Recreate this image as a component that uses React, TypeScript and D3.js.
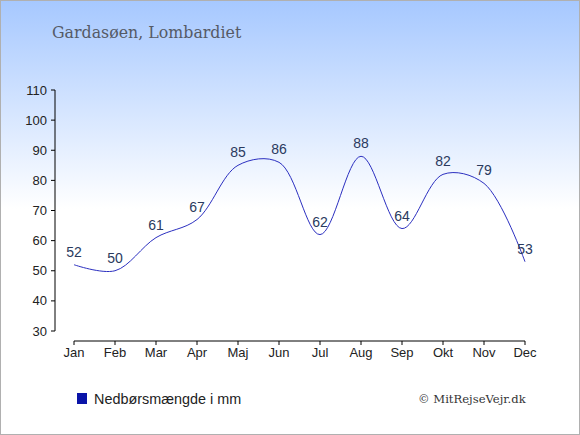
import React from 'react';
import * as d3 from 'd3';

const months = ['Jan', 'Feb', 'Mar', 'Apr', 'Maj', 'Jun', 'Jul', 'Aug', 'Sep', 'Okt', 'Nov', 'Dec'];
const rainfall = [52, 50, 61, 67, 85, 86, 62, 88, 64, 82, 79, 53];
const yTicks = [30, 40, 50, 60, 70, 80, 90, 100, 110];

const W = 580;
const H = 435;

const App: React.FC = () => {
  // scales
  const x = d3.scalePoint<string>().domain(months).range([74, 525]);
  const y = d3.scaleLinear().domain([30, 110]).range([331, 90]);

  const line = d3
    .line<number>()
    .x((_, i) => x(months[i]) as number)
    .y(d => y(d))
    .curve(d3.curveCatmullRom);

  return (
    <svg width={W} height={H} style={{ position: 'absolute', left: 0, top: 0 }}>
      <defs>
        <linearGradient id="bg" x1="0" y1="0" x2="0" y2="1">
          <stop offset="0" stopColor="#a6c8ff" />
          <stop offset="0.48" stopColor="#ffffff" />
          <stop offset="1" stopColor="#ffffff" />
        </linearGradient>
      </defs>
      <rect x={0.5} y={0.5} width={W - 1} height={H - 1} fill="url(#bg)" stroke="#b0b0b0" />

      <text x={52} y={38} fontFamily="DejaVu Serif" fontSize={15.8} fill="#555a66">
        Gardasøen, Lombardiet
      </text>

      {/* y axis */}
      <line x1={55} x2={55} y1={y(110)} y2={y(30)} stroke="#000" />
      {yTicks.map(t => (
        <g key={t}>
          <line x1={51} x2={55} y1={y(t)} y2={y(t)} stroke="#000" />
          <text x={47} y={y(t)} dy="0.35em" textAnchor="end" fontFamily="Liberation Sans" fontSize={13} fill="#222">
            {t}
          </text>
        </g>
      ))}

      {/* x axis */}
      <line x1={x('Jan')} x2={x('Dec')} y1={341} y2={341} stroke="#000" />
      {months.map(m => (
        <g key={m}>
          <line x1={x(m)} x2={x(m)} y1={341} y2={345} stroke="#000" />
          <text x={x(m)} y={357} textAnchor="middle" fontFamily="Liberation Sans" fontSize={13} fill="#222">
            {m}
          </text>
        </g>
      ))}

      <path d={line(rainfall) ?? ''} fill="none" stroke="#2b2fc0" strokeWidth={1} />

      {rainfall.map((v, i) => (
        <text
          key={i}
          x={x(months[i])}
          y={y(v) - 8}
          textAnchor="middle"
          fontFamily="Liberation Sans"
          fontSize={14}
          fill="#2a3a5e"
        >
          {v}
        </text>
      ))}

      {/* legend */}
      <rect x={77} y={393} width={10} height={11} fill="#0a14a8" />
      <text x={94} y={404} fontFamily="Liberation Sans" fontSize={14.4} fill="#222">
        Nedbørsmængde i mm
      </text>
      <text x={418} y={403} fontFamily="DejaVu Serif" fontSize={11.6} fill="#333">
        © MitRejseVejr.dk
      </text>
    </svg>
  );
};

export default App;
